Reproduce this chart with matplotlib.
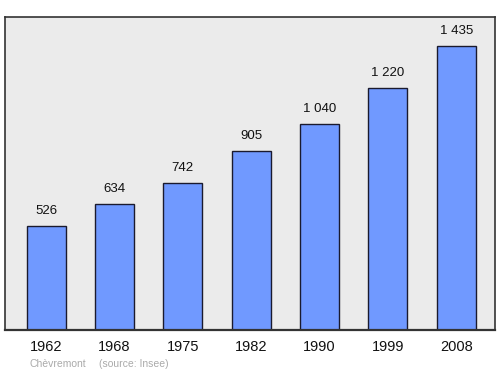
import matplotlib
matplotlib.use("Agg")
import matplotlib.pyplot as plt

# Population data (Insee)
years = ["1962", "1968", "1975", "1982", "1990", "1999", "2008"]
population = [526, 634, 742, 905, 1040, 1220, 1435]
value_labels = ["526", "634", "742", "905", "1 040", "1 220", "1 435"]

plt.rcParams["font.family"] = ["Liberation Sans", "DejaVu Sans"]

fig = plt.figure(figsize=(5, 3.74), dpi=100)
ax = fig.add_axes([0.01, 0.1176, 0.98, 0.837])
ax.set_facecolor("#ebebeb")

x = list(range(len(years)))
ax.bar(x, population, width=0.57, color="#7099ff", edgecolor="#1a1a2e", linewidth=1.0, zorder=2)

for xi, val, lab in zip(x, population, value_labels):
    ax.annotate(lab, (xi, val), xytext=(0, 15), textcoords="offset pixels",
                ha="center", va="center", fontsize=9.5, color="#111111")

ax.set_xlim(-0.6, 6.565)
ax.set_ylim(0, 1580)
ax.set_xticks(x)
ax.set_xticklabels(years, fontsize=10.5, color="#111111")
ax.tick_params(axis="x", length=0, pad=7.5)
ax.set_yticks([])

for side in ["top", "right", "left", "bottom"]:
    ax.spines[side].set_color("#333333")
    ax.spines[side].set_linewidth(1.2)
ax.spines["bottom"].set_linewidth(1.6)

fig.text(30 / 500, 1 - 364 / 374, "Chèvremont", fontsize=7.5, color="#aaaaaa", va="center")
fig.text(99 / 500, 1 - 364 / 374, "(source: Insee)", fontsize=7.5, color="#aaaaaa", va="center")

fig.savefig("out.png", dpi=100)
